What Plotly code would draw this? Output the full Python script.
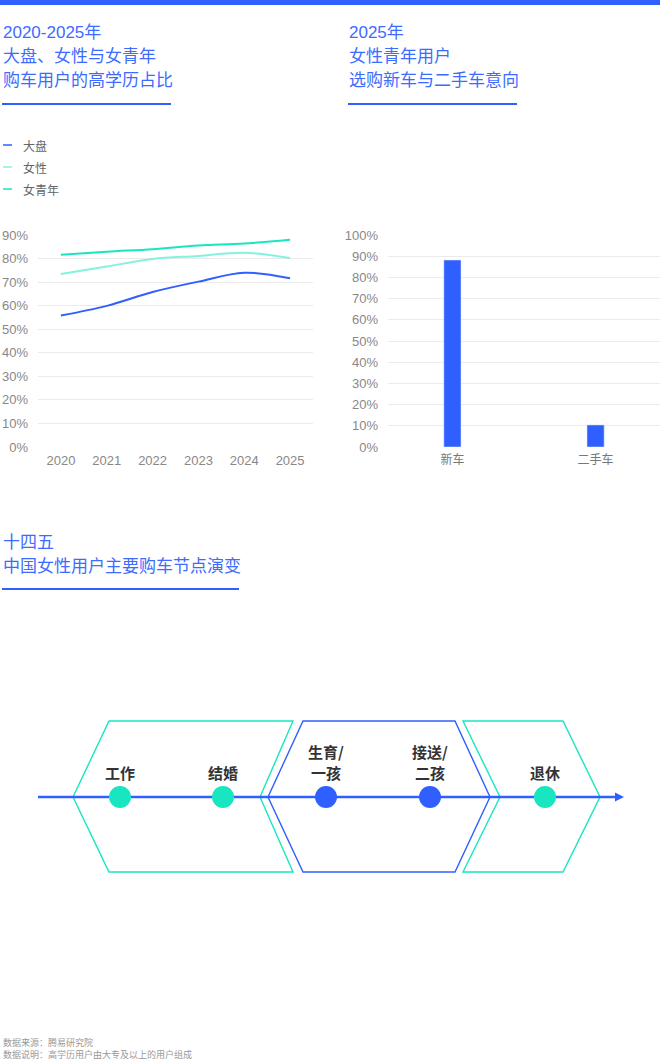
import plotly.graph_objects as go

W, H = 660, 1061

# ---- data ----
years = ["2020", "2021", "2022", "2023", "2024", "2025"]
dapan = [55.8, 59.9, 65.8, 70.2, 74.0, 71.6]
nvxing = [73.4, 76.6, 79.8, 81.1, 82.5, 80.2]
nvqingnian = [81.6, 82.9, 84.0, 85.5, 86.4, 88.0]
series_names = ["大盘", "女性", "女青年"]

car_types = ["新车", "二手车"]
car_share = [88.2, 10.4]

stages = [["工作"], ["结婚"], ["生育/", "一孩"], ["接送/", "二孩"], ["退休"]]
stage_phase = [0, 0, 1, 1, 2]

# ---- styles ----
BLUE = "#2f5fff"
TEAL = "#17e6c0"
MINT = "#84f2dd"
TITLE_BLUE = "#3d6bff"
GRID = "#ebebeb"
TICK = "#888888"
CJK = "Noto Sans CJK SC"
LAT = "Liberation Sans, Noto Sans CJK SC"

line_colors = [BLUE, MINT, TEAL]
phase_colors = [TEAL, BLUE, TEAL]
node_x = [120, 223, 326, 430, 545]   # layout positions on the overlay axis (px)
node_y = 797


def dom_x(a, b):
    return [a / W, b / W]


def dom_y(top, bottom):
    return [1 - bottom / H, 1 - top / H]


fig = go.Figure()

# line chart
for name, vals, col in zip(series_names, [dapan, nvxing, nvqingnian], line_colors):
    fig.add_trace(go.Scatter(x=years, y=vals, name=name, mode="lines",
                             line=dict(color=col, width=2, shape="spline"),
                             xaxis="x", yaxis="y", showlegend=False))

# bar chart
fig.add_trace(go.Bar(x=car_types, y=car_share, width=0.12, marker_color=BLUE,
                     xaxis="x2", yaxis="y2", showlegend=False))

# timeline nodes
fig.add_trace(go.Scatter(x=node_x, y=[node_y] * len(node_x), mode="markers",
                         marker=dict(size=22, color=[phase_colors[p] for p in stage_phase]),
                         xaxis="x3", yaxis="y3", showlegend=False, hoverinfo="skip"))

fig.update_layout(
    width=W, height=H, margin=dict(l=0, r=0, t=0, b=0, pad=0, autoexpand=False),
    paper_bgcolor="white", plot_bgcolor="rgba(0,0,0,0)",
    font=dict(family=CJK, color="#666"),
    xaxis=dict(domain=dom_x(38, 313), range=[-0.5, 5.5], showgrid=False, zeroline=False,
               ticks="", tickfont=dict(family=LAT, size=13, color=TICK), ticklabelstandoff=4),
    yaxis=dict(domain=dom_y(235, 447), range=[0, 90], dtick=10, ticksuffix="%",
               showgrid=True, gridcolor=GRID, gridwidth=1, zeroline=False, ticks="",
               tickfont=dict(family=LAT, size=13, color=TICK), ticklabelstandoff=9),
    xaxis2=dict(domain=dom_x(388, 660), range=[-0.45, 1.45], showgrid=False, zeroline=False,
                ticks="", tickfont=dict(family=CJK, size=12, color="#777"), ticklabelstandoff=4,
                anchor="y2"),
    yaxis2=dict(domain=dom_y(235, 447), range=[0, 100], dtick=10, ticksuffix="%",
                showgrid=True, gridcolor=GRID, gridwidth=1, zeroline=False, ticks="",
                tickfont=dict(family=LAT, size=13, color=TICK), ticklabelstandoff=9,
                anchor="x2"),
    xaxis3=dict(domain=[0, 1], range=[0, W], visible=False, fixedrange=True, anchor="y3"),
    yaxis3=dict(domain=[0, 1], range=[H, 0], visible=False, fixedrange=True, anchor="x3"),
)

shapes = []
ann = []


def rect(x0, y0, x1, y1, col):
    shapes.append(dict(type="rect", xref="x3", yref="y3", x0=x0, y0=y0, x1=x1, y1=y1,
                       fillcolor=col, line=dict(width=0), layer="below"))


def text(x, y, s, size=17, col=TITLE_BLUE, anchor="left", family=LAT):
    ann.append(dict(xref="x3", yref="y3", x=x, y=y, text=s, showarrow=False, align=anchor,
                    xanchor=anchor, yanchor="middle", font=dict(size=size, color=col, family=family)))


# top bar
rect(0, 0, W, 5, BLUE)

# section titles
for i, s in enumerate(["2020-2025年", "大盘、女性与女青年", "购车用户的高学历占比"]):
    text(1, 32 + 24 * i, s)
rect(2, 103, 171, 105, BLUE)
for i, s in enumerate(["2025年", "女性青年用户", "选购新车与二手车意向"]):
    text(347, 32 + 24 * i, s)
rect(348, 103, 517, 105, BLUE)
for i, s in enumerate(["十四五", "中国女性用户主要购车节点演变"]):
    text(1, 542 + 24 * i, s)
rect(2, 588, 239, 590, BLUE)

# custom legend
for i, (name, col) in enumerate(zip(series_names, line_colors)):
    y = 145 + 22 * i
    shapes.append(dict(type="line", xref="x3", yref="y3", x0=3, x1=12, y0=y, y1=y,
                       line=dict(color=col, width=1.5)))
    text(21, y, name, size=12, col="#666", family=CJK)

# timeline frames
frames = [
    "M 109,721 L 293,721 L 260,797 L 293,872 L 109,872 L 73,797 Z",
    "M 303,721 L 455,721 L 490,797 L 455,872 L 303,872 L 268,797 Z",
    "M 463,721 L 563,721 L 600,797 L 563,872 L 463,872 L 500,797 Z",
]
for path, col in zip(frames, phase_colors):
    shapes.append(dict(type="path", xref="x3", yref="y3", path=path,
                       line=dict(color=col, width=1.4), layer="below"))

# timeline axis with arrow
shapes.append(dict(type="line", xref="x3", yref="y3", x0=38, x1=617, y0=node_y, y1=node_y,
                   line=dict(color=BLUE, width=2.5), layer="below"))
shapes.append(dict(type="path", xref="x3", yref="y3",
                   path="M 615,792.5 L 624,797 L 615,801.5 Z",
                   fillcolor=BLUE, line=dict(width=0), layer="below"))

# node labels (last line sits at the same height for every node)
for x, lines in zip(node_x, stages):
    for j, s in enumerate(reversed(lines)):
        text(x, 772 - 21 * j, "<b>" + s + "</b>", size=15, col="#333", anchor="center", family=CJK)

# footer
text(1, 1048, "数据来源：腾易研究院<br>数据说明：高学历用户由大专及以上的用户组成",
     size=9, col="#999", family=CJK)

fig.update_layout(shapes=shapes, annotations=ann)
fig.write_html("out.html", config={"displayModeBar": False},
               post_script="document.body.style.margin='0';")
